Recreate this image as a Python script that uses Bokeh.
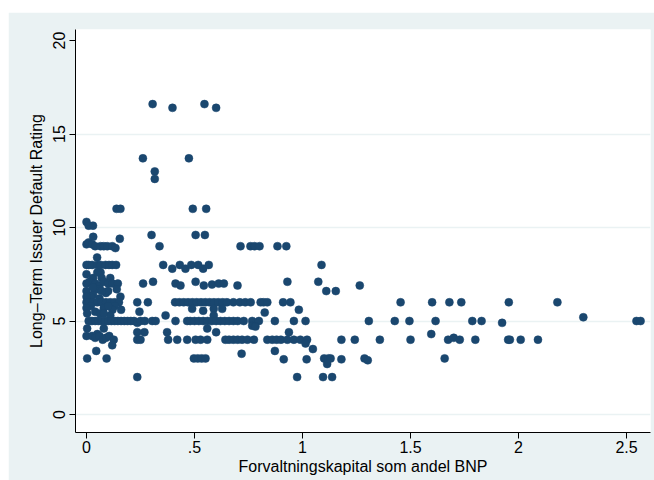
from bokeh.plotting import figure
from bokeh.embed import file_html
from bokeh.resources import INLINE
from bokeh.models import Range1d, FixedTicker, ColumnDataSource

# Forvaltningskapital som andel BNP (x) and Long-Term Issuer Default Rating (y)
asset_gdp = [
    0.306, 0.398, 0.546, 0.60,
    0.261, 0.474, 0.316, 0.316,
    0.139, 0.157, 0.492, 0.554,
    0.0, 0.01, 0.03,
    0.301, 0.505, 0.548, 0.031, 0.154,
    0.0, 0.01, 0.026, 0.04, 0.065, 0.08, 0.096, 0.119, 0.134, 0.338, 0.713, 0.759, 0.778, 0.801, 0.884, 0.925,
    0.049,
    0.0, 0.01, 0.026, 0.05, 0.065, 0.088, 0.104, 0.119, 0.137, 0.355, 0.397, 0.432, 0.458, 0.485, 0.517, 0.54, 0.566, 1.088,
    0.065, 0.0, 0.03, 0.07, 0.05, 0.11,
    0.0, 0.015, 0.04, 0.06, 0.08, 0.1, 0.12, 0.145, 0.262, 0.308, 0.412, 0.435, 0.505, 0.543, 0.581, 0.612, 0.636, 0.699, 0.93, 1.073, 1.265,
    1.11, 1.154,
    0.0, 0.05, 0.09, 0.14, 0.157, 0.03, 0.02, 0.06, 0.1, 0.07, 0.0, 0.03,
    0.0, 0.01, 0.03, 0.05, 0.07, 0.09, 0.11, 0.13, 0.15, 0.235, 0.284, 0.41, 0.43, 0.45, 0.47, 0.49, 0.51, 0.53, 0.55, 0.57, 0.59, 0.61, 0.63, 0.65, 0.68, 0.71, 0.735, 0.76, 0.806, 0.82, 0.837, 0.91, 0.944, 1.454, 1.60, 1.68, 1.735, 1.955, 2.18,
    0.02, 0.08, 0.13, 0.489, 0.54, 0.589, 0.628, 0.825, 0.983, 0.245, 0.16, 0.0, 0.04, 0.12, 0.1,
    0.003, 0.062, 0.11, 0.366, 0.589, 2.30, 0.08,
    0.01, 0.025, 0.04, 0.055, 0.07, 0.085, 0.1, 0.115, 0.13, 0.145, 0.16, 0.175, 0.19, 0.205, 0.22, 0.235, 0.25, 0.27, 0.304, 0.32,
    0.412, 0.466, 0.48, 0.5, 0.52, 0.54, 0.56, 0.58, 0.6, 0.62, 0.64, 0.66, 0.68, 0.70, 0.728, 0.767, 0.798, 0.872, 0.96, 1.014, 1.307, 1.427, 1.495, 1.616, 1.786, 1.829, 1.924, 2.546, 2.565,
    0.003, 0.08, 0.268, 0.235, 0.373, 0.559, 0.6, 0.767, 0.937, 1.596, 0.782, 0.0, 0.05,
    0.026, 0.04, 0.06, 0.075, 0.09, 0.105, 0.126, 0.235, 0.25, 0.378, 0.42, 0.466, 0.505, 0.528, 0.559, 0.643, 0.66, 0.68, 0.70, 0.72, 0.745, 0.775, 0.837, 0.86, 0.88, 0.9, 0.93, 0.96, 0.99, 1.021, 1.18, 1.242, 1.358, 1.50, 1.674, 1.70, 1.728, 1.80, 1.952, 1.96, 2.01, 2.09, 1.014,
    0.119, 0.045, 0.872, 1.048, 0.718,
    0.003, 0.093, 0.497, 0.515, 0.533, 0.551, 0.913, 1.019, 1.10, 1.12, 1.13, 1.18, 1.287, 1.302, 1.658, 1.114,
    0.235, 0.975, 1.095, 1.137,
]
rating = [
    16.6, 16.4, 16.6, 16.4,
    13.7, 13.7, 13.0, 12.6,
    11.0, 11.0, 11.0, 11.0,
    10.3, 10.1, 10.1,
    9.6, 9.6, 9.6, 9.5, 9.4,
    9.1, 9.2, 9.1, 9.0, 9.0, 9.0, 9.0, 9.0, 8.9, 9.0, 9.0, 9.0, 9.0, 9.0, 9.0, 9.0,
    8.4,
    8.0, 8.0, 8.0, 8.0, 8.0, 8.0, 8.0, 8.0, 8.0, 8.0, 7.8, 8.0, 7.8, 8.0, 8.0, 7.8, 8.0, 8.0,
    7.6, 7.5, 7.3, 7.3, 7.6, 7.3,
    7.0, 7.1, 7.0, 6.9, 7.1, 7.0, 7.0, 7.0, 7.0, 7.1, 7.0, 6.9, 7.1, 6.9, 6.95, 7.0, 7.0, 6.9, 7.1, 7.1, 6.9,
    6.6, 6.6,
    6.6, 6.7, 6.5, 6.7, 6.3, 6.4, 6.3, 6.2, 6.6, 6.6, 6.3, 6.8,
    6.0, 6.0, 6.0, 6.0, 6.0, 6.0, 6.0, 6.0, 6.0, 6.0, 6.0, 6.0, 6.0, 6.0, 6.0, 6.0, 6.0, 6.0, 6.0, 6.0, 6.0, 6.0, 6.0, 6.0, 6.0, 6.0, 6.0, 6.0, 6.0, 6.0, 6.0, 6.0, 6.0, 6.0, 6.0, 6.0, 6.0, 6.0, 6.0,
    5.8, 5.7, 5.8, 5.65, 5.55, 5.65, 5.65, 5.45, 5.6, 5.5, 5.6, 5.7, 5.5, 5.6, 5.8,
    5.4, 5.4, 5.3, 5.3, 5.3, 5.2, 5.4,
    5.0, 5.0, 5.0, 5.0, 5.0, 5.0, 5.0, 5.0, 5.0, 5.0, 5.0, 5.0, 5.0, 5.0, 5.0, 4.9, 5.0, 5.0, 5.0, 5.0,
    5.0, 5.0, 5.0, 5.0, 5.0, 5.0, 5.0, 5.0, 5.0, 5.0, 5.0, 5.0, 5.0, 5.0, 5.0, 5.0, 5.0, 5.0, 5.0, 5.0, 5.0, 5.0, 5.0, 5.0, 5.0, 5.0, 4.9, 5.0, 5.0,
    4.6, 4.6, 4.4, 4.4, 4.4, 4.6, 4.4, 4.75, 4.4, 4.3, 4.7, 4.2, 4.3,
    4.2, 4.1, 4.2, 4.0, 4.1, 4.2, 4.0, 4.0, 4.0, 4.0, 4.0, 4.0, 4.0, 4.0, 4.0, 4.0, 4.0, 4.0, 4.0, 4.0, 4.0, 4.0, 4.0, 4.0, 4.0, 4.0, 4.0, 4.0, 4.0, 4.0, 4.0, 4.0, 4.0, 4.0, 4.0, 4.1, 4.0, 4.0, 4.0, 4.0, 4.0, 4.0, 3.8,
    3.7, 3.4, 3.4, 3.5, 3.25,
    3.0, 3.0, 3.0, 3.0, 3.0, 3.0, 2.95, 2.95, 3.0, 3.0, 3.0, 2.95, 3.0, 2.9, 3.0, 2.7,
    2.0, 2.0, 2.0, 2.0,
]

x_ticks = [0, 0.5, 1, 1.5, 2, 2.5]
x_tick_labels = ["0", ".5", "1", "1.5", "2", "2.5"]
y_ticks = [0, 5, 10, 15, 20]

BG = "#EAF2F3"
MARK = "#1A476F"
FONT = "Liberation Sans"

p = figure(width=646, height=468, output_backend="svg", toolbar_location=None,
           x_range=Range1d(-0.051, 2.611), y_range=Range1d(-0.963, 20.59),
           min_border_left=67, min_border_right=4, min_border_top=17, min_border_bottom=48)
p.styles = {"margin-left": "8px", "margin-top": "12px"}
p.background_fill_color = "white"
p.border_fill_color = BG
p.outline_line_color = None

src = ColumnDataSource(dict(x=asset_gdp, y=rating))
p.scatter("x", "y", source=src, size=8, fill_color=MARK, line_color=MARK, line_width=0.5)

p.xgrid.visible = False
p.ygrid.ticker = FixedTicker(ticks=[0, 5, 10, 15])
p.ygrid.grid_line_color = BG
p.ygrid.grid_line_width = 1.5

p.xaxis.ticker = FixedTicker(ticks=x_ticks)
p.xaxis.major_label_overrides = {t: l for t, l in zip(x_ticks, x_tick_labels)}
p.yaxis.ticker = FixedTicker(ticks=y_ticks)
p.yaxis.major_label_orientation = "vertical"

for ax in (p.xaxis[0], p.yaxis[0]):
    ax.axis_line_color = "black"
    ax.axis_line_width = 1
    ax.major_tick_line_color = "black"
    ax.major_tick_out = 6
    ax.major_tick_in = 0
    ax.minor_tick_line_color = None
    ax.major_label_text_font = FONT
    ax.major_label_text_font_size = "16px"
    ax.major_label_text_color = "black"
    ax.axis_label_text_font = FONT
    ax.axis_label_text_font_size = "16px"
    ax.axis_label_text_font_style = "normal"
    ax.axis_label_text_color = "black"

p.xaxis.axis_label = "Forvaltningskapital som andel BNP"
p.yaxis.axis_label = "Long\u2013Term Issuer Default Rating"
p.xaxis.major_label_standoff = 2
p.xaxis.axis_label_standoff = 2
p.yaxis.major_label_standoff = 4
p.yaxis.axis_label_standoff = 6

open("out.html", "w").write(file_html(p, INLINE))
